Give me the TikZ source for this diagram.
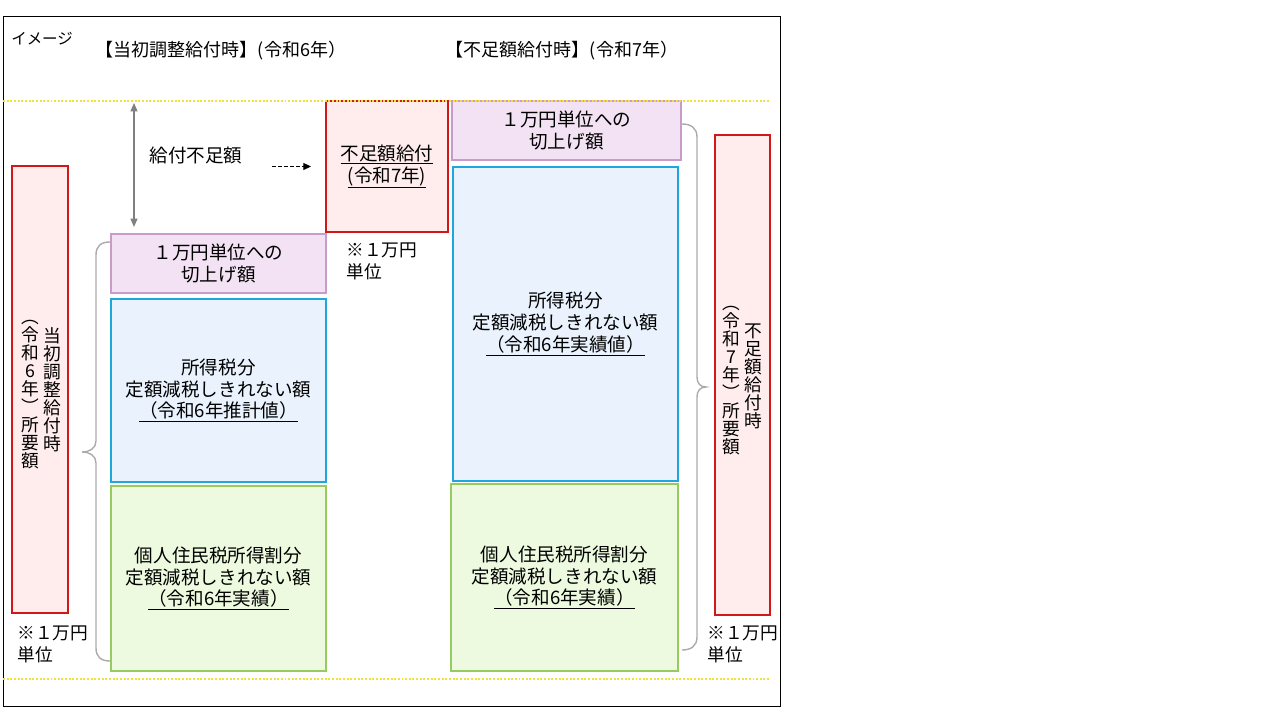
\documentclass[tikz,border=0pt]{standalone}
\usepackage{fontspec}
\setmainfont{Noto Sans CJK JP}
\usepackage{tikz}
\usetikzlibrary{arrows.meta}
\definecolor{needred}{HTML}{D01818}
\definecolor{needfill}{HTML}{FFEDED}
\definecolor{roundpink}{HTML}{C99BC9}
\definecolor{roundfill}{HTML}{F3E2F3}
\definecolor{taxblue}{HTML}{1FA6DA}
\definecolor{taxfill}{HTML}{EAF3FD}
\definecolor{resgreen}{HTML}{97CB5F}
\definecolor{resfill}{HTML}{EDFADF}
\definecolor{dotyellow}{HTML}{EEE23A}
\definecolor{bracegray}{HTML}{ABABAB}

\begin{document}
\begin{tikzpicture}[x=0.025cm, y=-0.025cm,
    box/.style={draw, line width=1.4pt, inner sep=0pt, align=center,
                font=\fontsize{13.2}{15.6}\selectfont},
    roundbox/.style={box, draw=roundpink, fill=roundfill, minimum height=1.475cm},
    taxbox/.style={box, draw=taxblue, fill=taxfill},
    resbox/.style={box, draw=resgreen, fill=resfill},
    needbox/.style={box, draw=needred, fill=needfill},
    vcol/.style={align=center, inner sep=0pt, font=\fontsize{12.6}{12.8}\selectfont},
    note/.style={align=left, anchor=west, inner sep=0pt, font=\fontsize{12.6}{15.6}\selectfont},
    head/.style={inner sep=0pt, font=\fontsize{12.8}{14}\selectfont},
    brace/.style={draw=bracegray, line width=1pt},
    dotline/.style={draw=dotyellow, line width=1.4pt, dash pattern=on 1.4pt off 1.2pt},
    gaparrow/.style={draw=gray, line width=0.8pt,
                     {Triangle[length=6pt,width=5pt]}-{Triangle[length=6pt,width=5pt]}},
    lackarrow/.style={draw=black, line width=0.7pt, dash pattern=on 2.5pt off 1.8pt,
                      -{Triangle[length=5.5pt,width=5pt]}},
]
\useasboundingbox (0,0) rectangle (1280,720);
\draw[line width=0.7pt] (3,16) rectangle (780,706);

\node[anchor=west, inner sep=0pt, font=\fontsize{11}{13}\selectfont] (image) at (11,39) {イメージ};
\node[head] (head1) at (221,51) {【当初調整給付時】(令和6年）};
\node[head] (head2) at (562,51) {【不足額給付時】(令和7年）};

% 令和6年
\node[needbox, minimum width=1.4cm, minimum height=11.175cm] (need1) at (40,389.5) {};
\node[vcol] (need1a) at (52,390) {当\\初\\調\\整\\給\\付\\時};
\node[vcol] (need1b) at (30,395) {︵\\令\\和\\6\\年\\︶\\所\\要\\額};
\node[note] (unit1) at (17,644) {※１万円\\単位};

\node[roundbox, minimum width=5.375cm] (round1) at (218.5,263.5) {１万円単位への\\切上げ額};
\node[taxbox, minimum width=5.375cm, minimum height=4.575cm] (tax1) at (218.5,390.5)
    {所得税分\\定額減税しきれない額\\\underline{（令和6年推計値）}};
\node[resbox, minimum width=5.375cm, minimum height=4.625cm] (res1) at (218.5,578.5)
    {個人住民税所得割分\\定額減税しきれない額\\\underline{（令和6年実績）}};

\node[inner sep=0pt, font=\fontsize{13.2}{15.6}\selectfont] (gap) at (196,155) {給付不足額};
\coordinate (gaptop) at (134,103);
\draw[gaparrow] (gaptop) -- ([yshift=0.15cm]gaptop |- round1.north);

\node[needbox, minimum width=3.05cm, minimum height=3.275cm] (lack) at (387,166.5)
    {\underline{不足額給付}\\\underline{(令和7年)}};
\draw[lackarrow] ([xshift=-1.325cm]lack.west) -- ([xshift=-0.35cm]lack.west);
\node[note] (unit2) at (346,261) {※１万円\\単位};

\draw[brace] (110,242) .. controls (101,242) and (96,246) .. (96,255) -- (96,441)
    .. controls (96,448) and (90,452) .. (82,452) .. controls (90,452) and (96,456) .. (96,463)
    -- (96,648) .. controls (96,657) and (101,661) .. (110,661);

% 令和7年
\node[roundbox, minimum width=5.725cm] (round2) at (566.5,130.5) {１万円単位への\\切上げ額};
\node[taxbox, minimum width=5.625cm, minimum height=7.85cm] (tax2) at (565.5,324)
    {所得税分\\定額減税しきれない額\\\underline{（令和6年実績値）}};
\node[resbox, minimum width=5.675cm, minimum height=4.675cm] (res2) at (564.5,577.5)
    {個人住民税所得割分\\定額減税しきれない額\\\underline{（令和6年実績）}};

\draw[brace] (682,124) .. controls (691,124) and (697,128) .. (697,137) -- (697,377)
    .. controls (697,383) and (700,387) .. (706,387) .. controls (700,387) and (697,391) .. (697,397)
    -- (697,637) .. controls (697,646) and (691,650) .. (682,650);

\node[needbox, minimum width=1.375cm, minimum height=12cm] (need2) at (742.5,375) {};
\node[vcol] (need2a) at (753,376) {不\\足\\額\\給\\付\\時};
\node[vcol] (need2b) at (731,381) {︵\\令\\和\\7\\年\\︶\\所\\要\\額};
\node[note] (unit3) at (707,644) {※１万円\\単位};

\draw[dotline] (3,101) -- (770,101);
\draw[dotline] (3,679) -- (770,679);
\end{tikzpicture}
\end{document}
